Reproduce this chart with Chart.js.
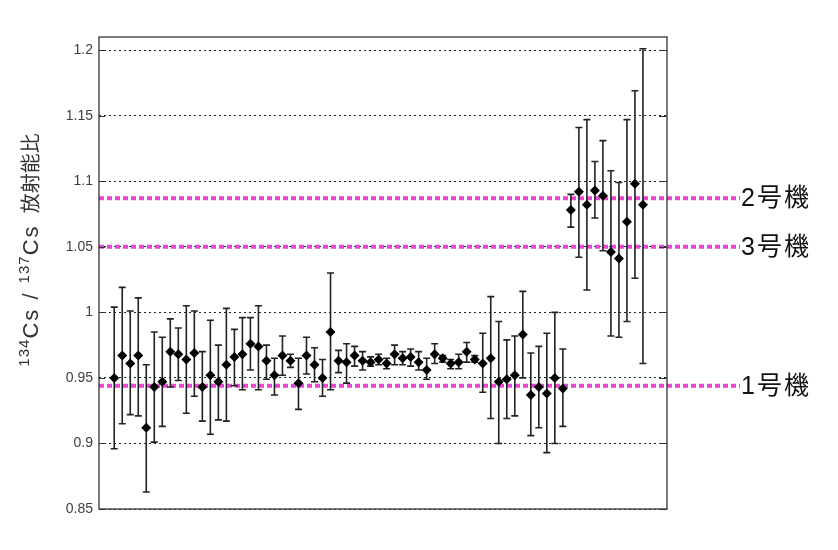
<!DOCTYPE html>
<html>
<head>
<meta charset="utf-8">
<script src="https://cdn.jsdelivr.net/npm/chart.js"></script>
<style>
  body { margin: 0; background: #fff; }
</style>
</head>
<body>
<canvas id="myChart" width="838" height="550"></canvas>
<script>
// measured ratios (134Cs / 137Cs), one per sample, with error bar ends
const ratio = [
  0.950, 0.967, 0.961, 0.967, 0.912, 0.943, 0.947, 0.970, 0.968, 0.964,
  0.969, 0.943, 0.952, 0.947, 0.960, 0.966, 0.968, 0.976, 0.974, 0.963,
  0.952, 0.967, 0.963, 0.946, 0.967, 0.960, 0.950, 0.985, 0.963, 0.962,
  0.967, 0.963, 0.962, 0.964, 0.961, 0.968, 0.965, 0.966, 0.962, 0.956,
  0.968, 0.965, 0.961, 0.962, 0.970, 0.964, 0.961, 0.965, 0.947, 0.949,
  0.952, 0.983, 0.937, 0.943, 0.938, 0.950, 0.942, 1.078, 1.092, 1.082,
  1.093, 1.089, 1.046, 1.041, 1.069, 1.098, 1.082
];
const ratioLow = [
  0.896, 0.915, 0.922, 0.921, 0.863, 0.901, 0.913, 0.943, 0.948, 0.923,
  0.936, 0.917, 0.907, 0.918, 0.917, 0.944, 0.941, 0.956, 0.941, 0.949,
  0.937, 0.952, 0.958, 0.926, 0.953, 0.947, 0.936, 0.941, 0.954, 0.946,
  0.959, 0.956, 0.959, 0.960, 0.957, 0.960, 0.960, 0.959, 0.956, 0.949,
  0.961, 0.962, 0.957, 0.957, 0.962, 0.962, 0.939, 0.919, 0.900, 0.919,
  0.921, 0.950, 0.906, 0.912, 0.893, 0.900, 0.913, 1.065, 1.042, 1.017,
  1.072, 1.047, 0.982, 0.981, 0.993, 1.026, 0.961
];
const ratioHigh = [
  1.004, 1.019, 1.001, 1.011, 0.960, 0.985, 0.981, 0.995, 0.988, 1.005,
  1.001, 0.970, 0.994, 0.975, 1.003, 0.987, 0.996, 0.996, 1.005, 0.975,
  0.965, 0.982, 0.968, 0.965, 0.981, 0.973, 0.964, 1.030, 0.971, 0.976,
  0.974, 0.970, 0.966, 0.968, 0.965, 0.975, 0.970, 0.972, 0.970, 0.965,
  0.976, 0.967, 0.964, 0.968, 0.977, 0.967, 0.984, 1.012, 0.993, 0.979,
  0.982, 1.016, 0.969, 0.974, 0.984, 1.000, 0.972, 1.090, 1.141, 1.147,
  1.115, 1.131, 1.108, 1.099, 1.147, 1.169, 1.201
];

// reactor reference ratios
const refLabels = ["2号機", "3号機", "1号機"];
const refValues = [1.087, 1.050, 0.944];

const yTicks = [0.85, 0.9, 0.95, 1.0, 1.05, 1.1, 1.15, 1.2];
const yTickLabels = ["0.85", "0.9", "0.95", "1", "1.05", "1.1", "1.15", "1.2"];

const points = ratio.map(function (v, i) { return { x: i + 1, y: v }; });

const refLinePlugin = {
    id: "refLines",
    beforeDatasetsDraw(chart) {
        const ctx = chart.ctx;
        const y = chart.scales.y;
        const area = chart.chartArea;
        ctx.save();
        ctx.strokeStyle = "#e548d4";
        ctx.lineWidth = 4;
        ctx.setLineDash([5, 3]);
        refValues.forEach(function (v) {
            const py = y.getPixelForValue(v);
            ctx.beginPath();
            ctx.moveTo(area.left, py);
            ctx.lineTo(740, py);
            ctx.stroke();
        });
        ctx.restore();

        // error bars
        const xs = chart.scales.x;
        ctx.save();
        ctx.strokeStyle = "#222";
        ctx.lineWidth = 1.6;
        ratio.forEach(function (v, i) {
            const px = xs.getPixelForValue(i + 1);
            const lo = y.getPixelForValue(ratioLow[i]);
            const hi = y.getPixelForValue(ratioHigh[i]);
            ctx.beginPath();
            ctx.moveTo(px, lo); ctx.lineTo(px, hi);
            ctx.moveTo(px - 3.5, lo); ctx.lineTo(px + 3.5, lo);
            ctx.moveTo(px - 3.5, hi); ctx.lineTo(px + 3.5, hi);
            ctx.stroke();
        });
        ctx.restore();
    },
    afterDraw(chart) {
        const ctx = chart.ctx;
        const y = chart.scales.y;
        const area = chart.chartArea;
        ctx.save();
        // inner tick marks on both sides
        ctx.strokeStyle = "#333";
        ctx.lineWidth = 1;
        yTicks.forEach(function (v) {
            const py = Math.round(y.getPixelForValue(v)) + 0.5;
            ctx.beginPath();
            ctx.moveTo(area.left, py); ctx.lineTo(area.left + 6, py);
            ctx.moveTo(area.right - 8, py); ctx.lineTo(area.right, py);
            ctx.stroke();
        });
        // frame
        ctx.lineWidth = 1.3;
        ctx.strokeRect(area.left, area.top, area.right - area.left, area.bottom - area.top);

        // reactor labels
        ctx.fillStyle = "#111";
        ctx.font = "25px 'Liberation Sans', 'Noto Sans CJK JP', sans-serif";
        ctx.textBaseline = "middle";
        ctx.textAlign = "left";
        ctx.letterSpacing = "2px";
        refLabels.forEach(function (t, i) {
            ctx.fillText(t, 741, y.getPixelForValue(refValues[i]) + 1);
        });

        // axis title with superscripts
        const parts = [
            { t: "134", f: "15px", ls: "1px", dy: -1 },
            { t: "Cs", f: "22px", ls: "2px", dy: 8 },
            { t: " / ", f: "22px", ls: "2px", dy: 8 },
            { t: "137", f: "15px", ls: "1px", dy: -1 },
            { t: "Cs", f: "22px", ls: "2px", dy: 8 },
            { t: "  放射能比", f: "20px", ls: "0px", dy: 8 }
        ];
        const fam = " 'Liberation Sans', 'Noto Sans CJK JP', sans-serif";
        ctx.translate(30, 250);
        ctx.rotate(-Math.PI / 2);
        ctx.textBaseline = "alphabetic";
        let total = 0;
        parts.forEach(function (p) {
            ctx.font = p.f + fam;
            ctx.letterSpacing = p.ls;
            p.w = ctx.measureText(p.t).width;
            total += p.w;
        });
        let cx = -total / 2;
        ctx.fillStyle = "#333";
        parts.forEach(function (p) {
            ctx.font = p.f + fam;
            ctx.letterSpacing = p.ls;
            ctx.fillText(p.t, cx, p.dy);
            cx += p.w;
        });
        ctx.restore();
    }
};

const ctx = document.getElementById("myChart").getContext("2d");
new Chart(ctx, {
    type: "scatter",
    data: {
        datasets: [
            {
                data: points,
                pointStyle: "rectRot",
                pointRadius: 5,
                pointBackgroundColor: "#000",
                pointBorderWidth: 0,
                showLine: false,
            },
        ],
    },
    options: {
        responsive: false,
        animation: false,
        layout: { padding: { left: 0, top: 37, right: 171, bottom: 41 } },
        plugins: {
            legend: { display: false },
            tooltip: { enabled: false },
        },
        scales: {
            x: {
                type: "linear",
                display: false,
                min: -0.9,
                max: 70,
            },
            y: {
                min: 0.85,
                max: 1.21,
                afterFit: function (s) { s.width = 99; },
                afterBuildTicks: function (s) {
                    s.ticks = yTicks.map(function (v) { return { value: v }; });
                },
                grid: { color: "#222", lineWidth: 1, drawTicks: false },
                border: { display: false, dash: [2, 3] },
                ticks: {
                    padding: 6,
                    color: "#404040",
                    font: { family: "'Liberation Sans', Arial, sans-serif", size: 14 },
                    callback: function (v) {
                        const i = yTicks.findIndex(function (t) { return Math.abs(t - v) < 1e-6; });
                        return i >= 0 ? yTickLabels[i] : null;
                    },
                },
            },
        },
    },
    plugins: [refLinePlugin],
});
</script>
</body>
</html>
